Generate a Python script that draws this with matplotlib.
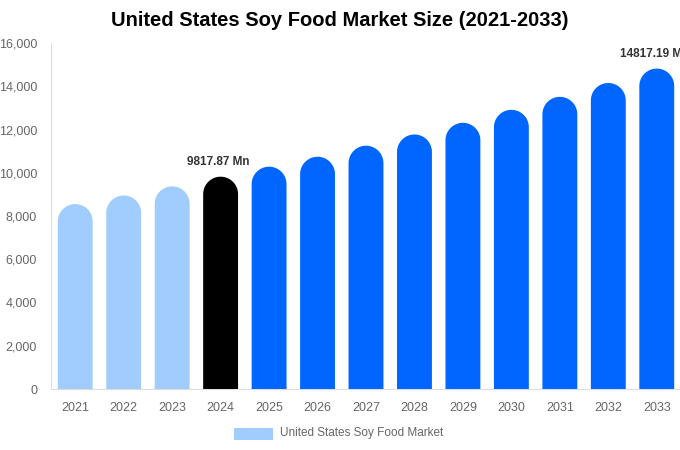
import matplotlib
matplotlib.use("Agg")
import matplotlib.pyplot as plt
from matplotlib.patches import Polygon, Rectangle
import matplotlib.ticker as ticker
import numpy as np

plt.rcParams["font.family"] = ["Liberation Sans", "DejaVu Sans"]

C_HIST = "#a0cdfd"
C_BASE = "#000000"
C_PROJ = "#0066ff"
C_TICK = "#666666"
C_AXIS = "#dddddd"

years = [2021, 2022, 2023, 2024, 2025, 2026, 2027, 2028, 2029, 2030, 2031, 2032, 2033]
values = [8550, 8950, 9370, 9817.87, 10280, 10740, 11250, 11770, 12310,
          12910, 13510, 14150, 14817.19]
bar_colors = [C_HIST] * 3 + [C_BASE] + [C_PROJ] * 9
labels = {3: "9817.87 Mn", 12: "14817.19 Mn"}
yticks = [0, 2000, 4000, 6000, 8000, 10000, 12000, 14000, 16000]

BAR_W = 0.72


def rounded_bar(ax, x, h, w, color):
    # rectangle with a semicircular cap, round in pixels
    bbox = ax.get_window_extent()
    x0, x1 = ax.get_xlim()
    y0, y1 = ax.get_ylim()
    px_x = bbox.width / (x1 - x0)
    px_y = bbox.height / (y1 - y0)
    rx = w / 2
    ry = rx * px_x / px_y
    t = np.linspace(0, np.pi, 60)
    top = h - ry
    pts = [(x - rx, 0), (x + rx, 0)]
    pts += list(zip(x + rx * np.cos(t), top + ry * np.sin(t)))
    ax.add_patch(Polygon(pts, closed=True, facecolor=color, edgecolor="none", zorder=3))


fig = plt.figure(figsize=(6.8, 4.5), dpi=100)
ax = fig.add_axes([51 / 680, 1 - 389 / 450, 630 / 680, 346 / 450])

idx = np.arange(len(years))
ax.set_xlim(-0.5, len(years) - 0.5)
ax.set_ylim(0, 16000)

for i, (v, c) in enumerate(zip(values, bar_colors)):
    rounded_bar(ax, i, v, BAR_W, c)

# the last label runs off the right edge, as in the source chart
for i, txt in labels.items():
    ax.annotate(txt, xy=(i, values[i]), xytext=(-1.5, 6), textcoords="offset points",
                ha="center", va="bottom", fontsize=8.5, fontweight="bold",
                color="#333333", annotation_clip=False, clip_on=False)

ax.set_xticks(idx)
ax.set_xticklabels([str(y) for y in years])
ax.set_yticks(yticks)
ax.yaxis.set_major_formatter(ticker.FuncFormatter(lambda v, _: f"{int(v):,}"))
ax.tick_params(axis="both", length=0, colors=C_TICK, labelsize=9)
ax.tick_params(axis="x", pad=9.5)
ax.tick_params(axis="y", pad=10)

for s in ["top", "right"]:
    ax.spines[s].set_visible(False)
ax.spines["left"].set_color(C_AXIS)
ax.spines["bottom"].set_color(C_AXIS)

fig.text(340 / 680, 1 - 21 / 450, "United States Soy Food Market Size (2021-2033)",
         ha="center", va="center", fontsize=14.5, fontweight="bold", color="#000000")

fig.patches.append(Rectangle((234 / 680, 1 - 440 / 450), 39 / 680, 12 / 450,
                             transform=fig.transFigure, facecolor=C_HIST,
                             edgecolor="none"))
fig.text(280 / 680, 1 - 433 / 450, "United States Soy Food Market",
         ha="left", va="center", fontsize=8.5, color=C_TICK)

fig.savefig("out.png", dpi=100)
